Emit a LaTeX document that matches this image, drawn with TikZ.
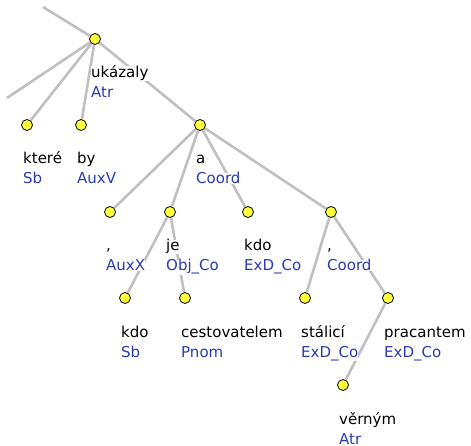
\documentclass[tikz,border=0pt]{standalone}
\usepackage{fontspec}
\setmainfont{DejaVu Sans}
\usetikzlibrary{positioning}
\usetikzlibrary{backgrounds}
\definecolor{fnblue}{RGB}{40,60,175}
\definecolor{edgegray}{RGB}{192,192,192}
\definecolor{dotyellow}{RGB}{255,255,60}
\tikzstyle{tree edge}=[draw=edgegray,line width=2.6pt]
\tikzstyle{dot}=[circle,draw=black,fill=dotyellow,line width=0.8pt,minimum size=11pt,inner sep=0pt]
\tikzstyle{word label}=[anchor=base west,fill=white,inner sep=0pt,xshift=-4pt,yshift=-39pt,font=\fontsize{15}{20}\selectfont]
\tikzstyle{fn label}=[anchor=base west,fill=white,inner sep=0pt,yshift=-20pt,text=fnblue,font=\fontsize{15}{20}\selectfont]
\newcommand{\treenode}[4][]{
  \node [dot, #1] (#2) {};
  \node [word label] (#2-w) at (#2) {#3};
  \node [fn label] (#2-f) at (#2-w.base west) {#4}
}

\begin{document}
\begin{tikzpicture}[x=1pt,y=-1pt,node distance=86pt,on grid]
        \useasboundingbox (0,0) rectangle (471,446);
        \coordinate (up) at (43,7);
        \coordinate (offleft) at (7,98);
        \treenode[at={(95,39)}]{ukazaly}{ukázaly}{Atr};
        \treenode[below left=86pt and 68pt of ukazaly]{ktere}{které}{Sb};
        \treenode[below left=86pt and 14pt of ukazaly]{by}{by}{AuxV};
        \treenode[below right=86pt and 105pt of ukazaly]{a}{a}{Coord};
                \treenode[below left=87pt and 90pt of a]{carka}{,}{AuxX};
                \treenode[below left=87pt and 30pt of a]{je}{je}{Obj\_Co};
                \treenode[below right=87pt and 48pt of a]{kdoexd}{kdo}{ExD\_Co};
                \treenode[below right=87pt and 131pt of a]{coord}{,}{Coord};
                        \treenode[below left=86pt and 45pt of je]{kdosb}{kdo}{Sb};
                        \treenode[below right=86pt and 15pt of je]{cestovatelem}{cestovatelem}{Pnom};
                        \treenode[below left=86pt and 26pt of coord]{stalici}{stálicí}{ExD\_Co};
                        \treenode[below right=86pt and 57pt of coord]{pracantem}{pracantem}{ExD\_Co};
    \treenode[below left=87pt and 45pt of pracantem]{vernym}{věrným}{Atr};

        \begin{scope}[on background layer]
                    \draw[tree edge] (ukazaly) -- (up);
                    \draw[tree edge] (ukazaly) -- (offleft);
                    \draw[tree edge] (ukazaly) -- (ktere);
                    \draw[tree edge] (ukazaly) -- (by);
                    \draw[tree edge] (ukazaly) -- (a);

            \draw[tree edge] (a) -- (carka);
            \draw[tree edge] (a) -- (je);
            \draw[tree edge] (a) -- (kdoexd);
            \draw[tree edge] (a) -- (coord);

            \draw[tree edge] (je) -- (kdosb);
            \draw[tree edge] (je) -- (cestovatelem);
            \draw[tree edge] (coord) -- (stalici);
            \draw[tree edge] (coord) -- (pracantem);
            \draw[tree edge] (pracantem) -- (vernym);
        \end{scope}
        \end{tikzpicture}
\end{document}
